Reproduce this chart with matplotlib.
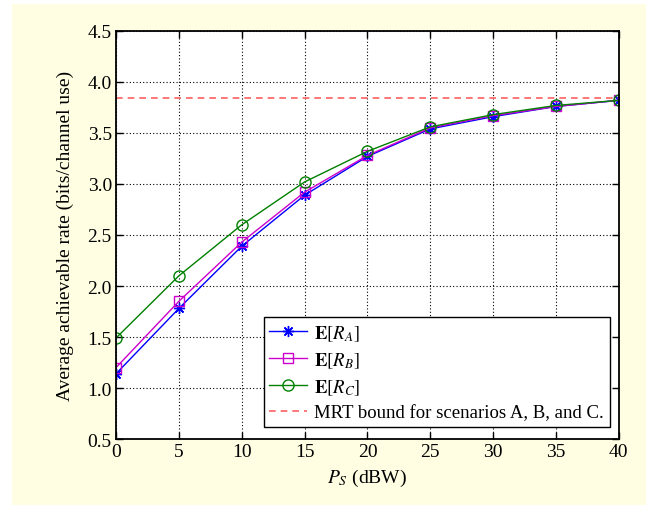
import numpy as np
import matplotlib
matplotlib.use("Agg")
import matplotlib.pyplot as plt
from matplotlib.patches import Rectangle
import matplotlib.ticker as plticker

plt.rcParams['font.family'] = ['Liberation Serif', 'DejaVu Serif']
plt.rcParams['mathtext.fontset'] = 'stix'

# data
ps = [0, 5, 10, 15, 20, 25, 30, 35, 40]
rate_a = [1.14, 1.78, 2.39, 2.89, 3.27, 3.54, 3.66, 3.76, 3.82]
rate_b = [1.20, 1.85, 2.43, 2.92, 3.28, 3.55, 3.67, 3.76, 3.82]
rate_c = [1.49, 2.10, 2.60, 3.02, 3.32, 3.56, 3.68, 3.77, 3.82]
mrt_bound = 3.84

fig = plt.figure(figsize=(6.46, 5.06), dpi=100)
fig.set_facecolor('white')
bg = Rectangle((12/646, 0), 1 - 12/646, 1 - 5/506,
               transform=fig.transFigure, facecolor='#FFFEE3',
               edgecolor='none', zorder=-10)
fig.add_artist(bg)
ax = fig.add_axes([0.1796, 0.1304, 0.7784, 0.8064])
ax.set_zorder(1)
ax.set_facecolor('white')

ax.plot(ps, rate_a, '-', color='#0000FF', linewidth=1, marker=(8, 2, 0),
        markersize=8, markeredgewidth=1, label=r'$\mathbf{E}[R_A]$')
ax.plot(ps, rate_b, '-', color='#CC00CC', linewidth=1, marker='s',
        markersize=7, markerfacecolor='none', markeredgewidth=1,
        label=r'$\mathbf{E}[R_B]$')
ax.plot(ps, rate_c, '-', color='#008000', linewidth=1, marker='o',
        markersize=8, markerfacecolor='none', markeredgewidth=1,
        label=r'$\mathbf{E}[R_C]$')
ax.axhline(mrt_bound, color='#FF6060', linestyle='--', linewidth=1.2,
           dashes=(4, 3), label='MRT bound for scenarios A, B, and C.')

ax.set_xlim(0, 40)
ax.set_ylim(0.5, 4.5)
ax.xaxis.set_major_locator(plticker.MultipleLocator(5))
ax.yaxis.set_major_locator(plticker.MultipleLocator(0.5))
ax.yaxis.set_major_formatter(plticker.FormatStrFormatter('%.1f'))
ax.tick_params(direction='in', top=True, right=True, length=5, width=1,
               labelsize=14, pad=3)
ax.grid(True, color='black', linestyle=(0, (1, 2)), linewidth=0.8)
for sp in ax.spines.values():
    sp.set_linewidth(1.3)

ax.set_xlabel(r'$P_S$ (dBW)', fontsize=14, labelpad=5)
ax.set_ylabel('Average achievable rate (bits/channel use)', fontsize=14,
              labelpad=10)

leg = ax.legend(loc='lower right', bbox_to_anchor=(0.982, 0.03), fontsize=13.5,
                fancybox=False, edgecolor='black', framealpha=1,
                handlelength=2.0, borderpad=0.3, labelspacing=0.4,
                handletextpad=0.4, borderaxespad=0)
leg.get_frame().set_linewidth(1)

fig.savefig('out.png', dpi=100)
